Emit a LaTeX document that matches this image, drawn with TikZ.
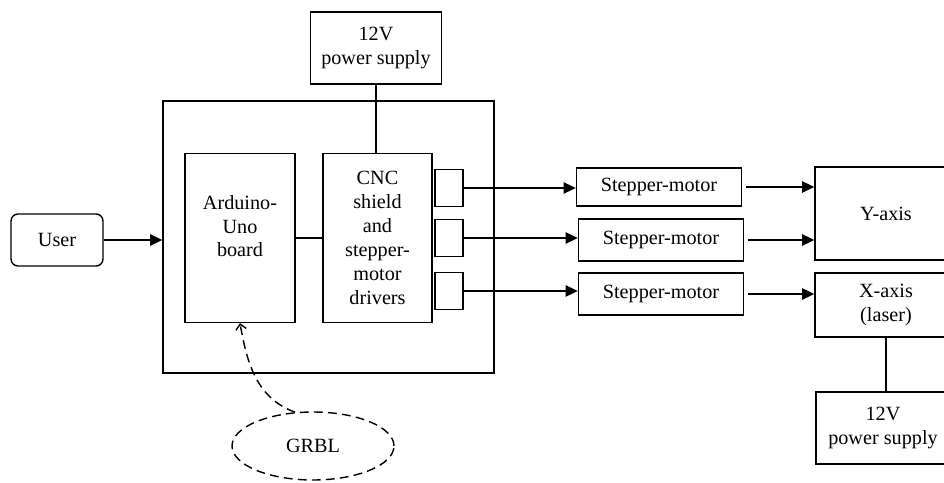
\documentclass[tikz,border=0pt]{standalone}
\usepackage{fontspec}
\setmainfont{Liberation Serif}
\usepackage{tikz}
\usetikzlibrary{arrows.meta,shapes.geometric}
\tikzset{
  blk/.style  ={draw, line width=0.8pt, align=center, inner sep=2pt,
                font=\fontsize{11.5}{13.6}\selectfont},
  port/.style ={draw, line width=0.8pt, minimum width=0.56cm, minimum height=0.74cm,
                inner sep=0pt},
  sm/.style   ={blk, minimum width=3.3cm, minimum height=0.8cm},
  psu/.style  ={blk, minimum height=1.44cm},
  arr/.style  ={line width=0.8pt, -{Triangle[length=7pt,width=6.5pt]}},
  ln/.style   ={line width=0.8pt},
  sw/.style   ={line width=0.8pt, dashed, dash pattern=on 5pt off 3pt},
}

\begin{document}
\begin{tikzpicture}[x=0.02cm,y=-0.02cm]
  \clip (0,0) rectangle (944,483);
  % controller
  \node[psu,minimum width=2.62cm] (pwa) at (376,48) {12V\\power supply};
  \node[draw,line width=0.8pt,minimum width=6.62cm,minimum height=5.44cm] (ctrl) at (328.5,237) {};
  \node[blk,minimum width=2.2cm,minimum height=3.38cm] (ard) at (240,238) {Arduino-\\Uno\\board\\\mbox{}};
  \node[blk,minimum width=2.18cm,minimum height=3.38cm] (cnc) at (377.5,238)
    {CNC\\shield\\and\\stepper-\\motor\\drivers};
  \node[port] (pa) at (449,188) {};
  \node[port] (pb) at (449,238) {};
  \node[port] (pc) at (449,291) {};
  % motors and axes
  \node[sm,minimum height=0.76cm] (sma) at (659,187) {Stepper-motor};
  \node[sm,minimum height=0.84cm] (smb) at (661,240) {Stepper-motor};
  \node[sm,minimum height=0.84cm] (smc) at (661,294) {Stepper-motor};
  \node[blk,minimum width=2.84cm,minimum height=1.86cm] (yax) at (886,213.5) {Y-axis};
  \node[blk,minimum width=2.84cm,minimum height=1.28cm] (xax) at (886,305) {X-axis\\(laser)};
  \node[psu,minimum width=2.68cm] (pwb) at (883,428) {12V\\power supply};
  % user and firmware
  \node[blk,rounded corners=4pt,minimum width=1.84cm,minimum height=1.04cm] (user) at (57,240) {User};
  \node[blk,ellipse,sw,minimum width=3.24cm,minimum height=1.36cm] (grbl) at (313,446) {GRBL};

  \draw[arr] (user.east) -- (user.east -| ctrl.west);
  \draw[ln] (ard) -- (cnc);
  \draw[ln] (pwa.south) -- (pwa.south |- cnc.north);
  \draw[arr] (pa.east) -- (pa.east -| sma.west);
  \draw[arr] (pb.east) -- (pb.east -| smb.west);
  \draw[arr] (pc.east) -- (pc.east -| smc.west);
  \draw[arr,shorten <=2pt] (sma.east) -- (sma.east -| yax.west);
  \draw[arr,shorten <=2pt] (smb.east) -- (smb.east -| yax.west);
  \draw[arr,shorten <=2pt] (smc.east) -- (smc.east -| xax.west);
  \draw[ln] (xax.south) -- (xax.south |- pwb.north);
  \draw[sw,-{Straight Barb[length=3pt,width=6pt]}] (grbl.118) to[out=160,in=-80] (ard.south);
\end{tikzpicture}
\end{document}
